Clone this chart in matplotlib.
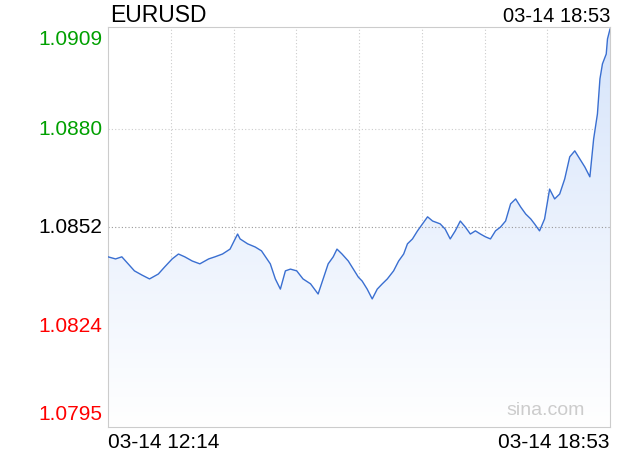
import matplotlib
matplotlib.use("Agg")
import matplotlib.pyplot as plt
import numpy as np
from matplotlib.patches import Polygon
from matplotlib.colors import LinearSegmentedColormap

minutes = [0,6,11,16,21,27,33,40,45,51,56,61,67,73,80,85,91,97,103,105,111,117,122,129,133,137,141,145,150,155,161,167,171,175,179,182,186,191,195,199,202,206,210,214,218,222,227,231,235,238,242,246,250,254,258,264,268,272,276,280,284,288,292,296,300,304,308,312,316,320,324,328,332,336,339,343,347,351,355,359,363,367,371,375,379,383,386,389,391,393,396,397,399]
prices = [1.08435,1.08429,1.08435,1.08415,1.08395,1.08383,1.08372,1.08386,1.08406,1.08429,1.08443,1.08435,1.08423,1.08415,1.08429,1.08435,1.08443,1.08457,1.08500,1.08486,1.08472,1.08463,1.08452,1.08415,1.08372,1.08343,1.08395,1.08400,1.08395,1.08372,1.08358,1.08329,1.08372,1.08415,1.08435,1.08457,1.08443,1.08423,1.08400,1.08377,1.08366,1.08343,1.08315,1.08343,1.08358,1.08372,1.08395,1.08423,1.08443,1.08472,1.08486,1.08509,1.08529,1.08549,1.08537,1.08529,1.08514,1.08486,1.08509,1.08537,1.08520,1.08500,1.08509,1.08500,1.08492,1.08486,1.08509,1.08520,1.08537,1.08586,1.08600,1.08577,1.08557,1.08543,1.08529,1.08509,1.08543,1.08628,1.08600,1.08614,1.08657,1.08720,1.08737,1.08714,1.08691,1.08663,1.08771,1.08842,1.08942,1.08985,1.09013,1.09056,1.09084]
yticks = [1.0909, 1.0880, 1.0852, 1.0824, 1.0795]
ytick_labels = ["1.0909", "1.0880", "1.0852", "1.0824", "1.0795"]
ytick_colors = ["#00a000", "#00a000", "#000000", "#ff0000", "#ff0000"]
ymin, ymax = 1.0795, 1.0909
xmax = 399

fig = plt.figure(figsize=(6.2, 4.6), dpi=100)
ax = fig.add_axes([108/620, 1-428/460, 502/620, 400/460])
ax.set_xlim(0, xmax)
ax.set_ylim(ymin, ymax)

verts = [(minutes[0], ymin)] + list(zip(minutes, prices)) + [(minutes[-1], ymin)]
poly = Polygon(verts, closed=True, facecolor='none', edgecolor='none')
ax.add_patch(poly)
grad = np.linspace(1, 0, 256).reshape(-1, 1)
cmap = LinearSegmentedColormap.from_list('g', ['#ffffff', '#d6e4fb'])
im = ax.imshow(grad, cmap=cmap, aspect='auto', extent=[0, xmax, ymin, max(prices)], origin='upper', zorder=1)
im.set_clip_path(poly)
ax.plot(minutes, prices, color='#3a6fd1', lw=1.0, zorder=3)

for i in range(1, 8):
    ax.axvline(xmax * i / 8, color='#cccccc', lw=0.8, ls=(0, (1, 2)), zorder=0)
for v in [1.0880, 1.0824]:
    ax.axhline(v, color='#cccccc', lw=0.8, ls=(0, (1, 2)), zorder=0)
ax.axhline(1.0852, color='#999999', lw=0.8, ls=(0, (1, 2)), zorder=2)

for s in ax.spines.values():
    s.set_color('#cccccc')
ax.set_xticks([]); ax.set_yticks([])

fs = 15
fam = 'Liberation Sans'
fig.text(102/620, 1-40/460, ytick_labels[0], color=ytick_colors[0], ha='right', va='center', fontsize=fs, family=fam)
for lab, col, v in zip(ytick_labels[1:4], ytick_colors[1:4], yticks[1:4]):
    y = 1 - (28 + (ymax - v) / (ymax - ymin) * 400) / 460
    fig.text(102/620, y, lab, color=col, ha='right', va='center', fontsize=fs, family=fam)
fig.text(102/620, 1-415/460, ytick_labels[4], color=ytick_colors[4], ha='right', va='center', fontsize=fs, family=fam)

fig.text(110/620, 1-16/460, "EURUSD", fontsize=16.5, va='center', ha='left', family=fam)
fig.text(610/620, 1-17/460, "03-14 18:53", fontsize=14.5, va='center', ha='right', family=fam)
fig.text(108/620, 1-443/460, "03-14 12:14", fontsize=15, va='center', ha='left', family=fam)
fig.text(610/620, 1-443/460, "03-14 18:53", fontsize=15, va='center', ha='right', family=fam)
fig.text(585/620, 1-411/460, "sina.com", fontsize=14, va='center', ha='right', color='#cccccc', family=fam)

fig.savefig('out.png', dpi=100)
